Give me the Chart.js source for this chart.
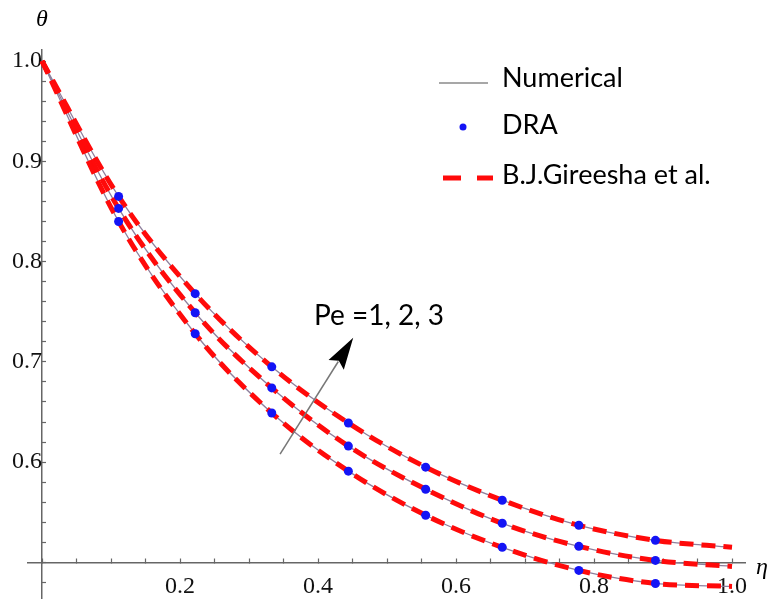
<!DOCTYPE html>
<html>
<head>
<meta charset="utf-8">
<title>theta profiles</title>
<script src="https://cdn.jsdelivr.net/npm/chart.js@4.4.1/dist/chart.umd.min.js"></script>
<style>
  html, body { margin: 0; padding: 0; background: #fff; }
  #wrap { width: 770px; height: 603px; }
</style>
</head>
<body>
<div id="wrap"><canvas id="thetaChart" width="770" height="603"></canvas></div>
<script>
// eta grid and temperature profiles for Pe = 1, 2, 3
var eta = [0, 0.111, 0.222, 0.333, 0.444, 0.556, 0.667, 0.778, 0.889, 1.0];
var thetaPe1 = [1.000, 0.840, 0.728, 0.649, 0.591, 0.547, 0.515, 0.492, 0.479, 0.476];
var thetaPe2 = [1.000, 0.853, 0.749, 0.674, 0.616, 0.573, 0.539, 0.516, 0.502, 0.496];
var thetaPe3 = [1.000, 0.865, 0.768, 0.695, 0.639, 0.595, 0.562, 0.537, 0.522, 0.515];

// DRA solution points
var draEta = [0.111, 0.222, 0.333, 0.444, 0.556, 0.667, 0.778, 0.889];
var draPe1 = [0.840, 0.728, 0.649, 0.591, 0.547, 0.515, 0.492, 0.479];
var draPe2 = [0.853, 0.749, 0.674, 0.616, 0.573, 0.539, 0.516, 0.502];
var draPe3 = [0.865, 0.768, 0.695, 0.639, 0.595, 0.562, 0.537, 0.522];

var xTickLabels = ["0.2", "0.4", "0.6", "0.8", "1.0"];
var yTickLabels = ["0.6", "0.7", "0.8", "0.9", "1.0"];

var seriesNames = ["Numerical", "DRA", "B.J.Gireesha et al."];
var peLabel = "Pe =1, 2, 3";

var axisColor = "#666666";
var numColor = "#8e7f9c";
var dashColor = "#ff0a0a";
var dotColor = "#1414f5";
var comicFont = '"Comic Sans MS", Lato, sans-serif';

function toPoints(xs, ys) {
    return xs.map(function (x, i) { return { x: x, y: ys[i] }; });
}

var datasets = [];
[draPe1, draPe2, draPe3].forEach(function (ys) {
    datasets.push({
        label: seriesNames[1],
        data: toPoints(draEta, ys),
        showLine: false,
        pointRadius: 4.5,
        pointBackgroundColor: dotColor,
        pointBorderWidth: 0,
        order: 0
    });
});
[thetaPe1, thetaPe2, thetaPe3].forEach(function (ys) {
    datasets.push({
        label: seriesNames[2],
        data: toPoints(eta, ys),
        borderColor: dashColor,
        borderWidth: 5,
        borderDash: [14, 8],
        borderCapStyle: "butt",
        cubicInterpolationMode: "monotone",
        pointRadius: 0,
        fill: false,
        order: 1
    });
});
[thetaPe1, thetaPe2, thetaPe3].forEach(function (ys) {
    datasets.push({
        label: seriesNames[0],
        data: toPoints(eta, ys),
        borderColor: numColor,
        borderWidth: 1.3,
        cubicInterpolationMode: "monotone",
        pointRadius: 0,
        fill: false,
        order: 2
    });
});

function tickText(list) {
    return function (v) {
        var s = v.toFixed(1);
        return (Math.abs(v - Number(s)) < 1e-6 && list.indexOf(s) >= 0) ? s : "";
    };
}

function noPad(scale) {
    scale.paddingTop = 0;
    scale.paddingBottom = 0;
    scale.paddingLeft = 0;
    scale.paddingRight = 0;
}

// axis symbols, Pe arrow and the legend box
var decorations = {
    id: "decorations",
    afterDraw: function (chart) {
        var ctx = chart.ctx;
        var xs = chart.scales.x, ys = chart.scales.y;
        ctx.save();

        ctx.fillStyle = "#000";
        ctx.font = "italic 24px 'Liberation Serif', serif";
        ctx.textAlign = "center";
        ctx.textBaseline = "middle";
        ctx.fillText("\u03b8", xs.getPixelForValue(0), 20);
        ctx.textAlign = "left";
        ctx.fillText("\u03b7", 756, ys.getPixelForValue(0.5) + 5);

        // arrow across the three curves
        var x0 = xs.getPixelForValue(0.345), y0 = ys.getPixelForValue(0.608);
        var x1 = xs.getPixelForValue(0.451), y1 = ys.getPixelForValue(0.724);
        var ang = Math.atan2(y1 - y0, x1 - x0);
        var headLen = 32, headHalf = 9;
        var bx = x1 - headLen * Math.cos(ang), by = y1 - headLen * Math.sin(ang);
        ctx.strokeStyle = "#777";
        ctx.lineWidth = 1.5;
        ctx.beginPath();
        ctx.moveTo(x0, y0);
        ctx.lineTo(bx + 4 * Math.cos(ang), by + 4 * Math.sin(ang));
        ctx.stroke();
        ctx.fillStyle = "#000";
        ctx.beginPath();
        ctx.moveTo(x1, y1);
        ctx.lineTo(bx + headHalf * Math.sin(ang), by - headHalf * Math.cos(ang));
        ctx.lineTo(bx + 5 * Math.cos(ang), by + 5 * Math.sin(ang));
        ctx.lineTo(bx - headHalf * Math.sin(ang), by + headHalf * Math.cos(ang));
        ctx.closePath();
        ctx.fill();

        ctx.font = "28px " + comicFont;
        ctx.textAlign = "left";
        ctx.textBaseline = "alphabetic";
        ctx.fillText(peLabel, 314, 325);

        // legend
        ctx.strokeStyle = "#8a8a8a";
        ctx.lineWidth = 1.3;
        ctx.beginPath();
        ctx.moveTo(439, 83);
        ctx.lineTo(488, 83);
        ctx.stroke();
        ctx.fillStyle = dotColor;
        ctx.beginPath();
        ctx.arc(463, 127, 3.5, 0, Math.PI * 2);
        ctx.fill();
        ctx.strokeStyle = dashColor;
        ctx.lineWidth = 5;
        ctx.beginPath();
        ctx.moveTo(443, 178);
        ctx.lineTo(461, 178);
        ctx.moveTo(477, 178);
        ctx.lineTo(493, 178);
        ctx.stroke();

        ctx.fillStyle = "#000";
        ctx.font = "27px " + comicFont;
        ctx.fillText(seriesNames[0], 502, 87);
        ctx.fillText(seriesNames[1], 502, 134);
        ctx.fillText(seriesNames[2], 502, 184);
        ctx.restore();
    }
};

new Chart("thetaChart", {
    type: "line",
    data: { datasets: datasets },
    options: {
        responsive: false,
        animation: false,
        devicePixelRatio: 1,
        layout: { padding: { left: 28, right: 25, top: 50, bottom: 3 } },
        plugins: {
            legend: { display: false },
            tooltip: { enabled: false }
        },
        scales: {
            x: {
                type: "linear",
                position: { y: 0.5 },
                min: -0.0203,
                max: 1.0188,
                afterFit: noPad,
                border: { display: true, color: axisColor, width: 1.5 },
                grid: { drawOnChartArea: false, drawTicks: true, tickLength: -5, tickColor: axisColor, tickWidth: 1.2 },
                ticks: {
                    stepSize: 0.05,
                    includeBounds: false,
                    autoSkip: false,
                    maxRotation: 0,
                    padding: 15,
                    color: "#111",
                    font: { family: "'Liberation Serif', serif", size: 24 },
                    callback: tickText(xTickLabels)
                }
            },
            y: {
                type: "linear",
                position: { x: 0 },
                min: 0.464,
                max: 1.011,
                afterFit: noPad,
                border: { display: true, color: axisColor, width: 1.5 },
                grid: { drawOnChartArea: false, drawTicks: true, tickLength: -5, tickColor: axisColor, tickWidth: 1.2 },
                ticks: {
                    stepSize: 0.02,
                    includeBounds: false,
                    autoSkip: false,
                    padding: 12,
                    color: "#111",
                    font: { family: "'Liberation Serif', serif", size: 24 },
                    callback: tickText(yTickLabels)
                }
            }
        }
    },
    plugins: [decorations]
});
</script>
</body>
</html>
